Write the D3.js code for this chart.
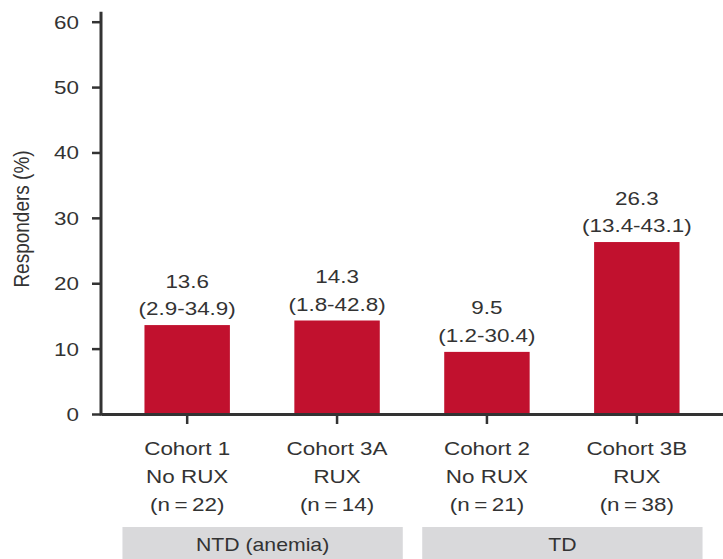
<!DOCTYPE html>
<html>
<head>
<meta charset="utf-8">
<script src="https://cdn.jsdelivr.net/npm/d3@7"></script>
<style>
  body { margin: 0; background: #fff; }
  svg text { font-family: "Liberation Sans", Arial, Helvetica, sans-serif; fill: #333; }
</style>
</head>
<body>
<svg id="chart"></svg>
<script>
// data
const cohorts = ['Cohort 1', 'Cohort 3A', 'Cohort 2', 'Cohort 3B'];
const treatment = ['No RUX', 'RUX', 'No RUX', 'RUX'];
const sampleSize = [22, 14, 21, 38];
const responders = [13.6, 14.3, 9.5, 26.3];
const ciLabels = ['(2.9-34.9)', '(1.8-42.8)', '(1.2-30.4)', '(13.4-43.1)'];
const groups = [
  { name: 'NTD (anemia)', members: ['Cohort 1', 'Cohort 3A'] },
  { name: 'TD', members: ['Cohort 2', 'Cohort 3B'] }
];
const yTicks = [0, 10, 20, 30, 40, 50, 60];

const width = 723, height = 559;
const sx = 1.18; // source figure is stretched horizontally

const svg = d3.select('#chart')
    .attr('width', width)
    .attr('height', height);

const xScale = d3.scaleBand()
    .domain(cohorts)
    .range([101, 723])
    .paddingInner(0.43)
    .paddingOuter(0.29);

const yScale = d3.scaleLinear()
    .domain([0, 60])
    .range([414, 21.7]);

// helper: horizontally stretched text
function stretchedText(sel, x, y, txt, size, anchor) {
  return sel.append('text')
      .attr('transform', `translate(${x},${y}) scale(${sx},1)`)
      .attr('text-anchor', anchor || 'middle')
      .style('font-size', size + 'px')
      .text(txt);
}

// bars
svg.selectAll('.bar')
    .data(cohorts)
  .join('rect')
    .attr('class', 'bar')
    .attr('x', d => xScale(d))
    .attr('width', xScale.bandwidth())
    .attr('y', (d, i) => yScale(responders[i]))
    .attr('height', (d, i) => yScale(0) - yScale(responders[i]))
    .attr('fill', '#c1112e');

// value + CI labels
cohorts.forEach((c, i) => {
  const cx = xScale(c) + xScale.bandwidth() / 2;
  const top = yScale(responders[i]);
  stretchedText(svg, cx, top - 37.5, responders[i].toFixed(1), 19);
  stretchedText(svg, cx, top - 10, ciLabels[i], 19);
});

// y axis
const yAxis = d3.axisLeft(yScale)
    .tickValues(yTicks)
    .tickSize(9)
    .tickSizeOuter(0)
    .tickFormat('');

const yAxisG = svg.append('g')
    .attr('transform', 'translate(101,0)')
    .call(yAxis);
yAxisG.select('.domain').remove();
yAxisG.selectAll('.tick line').attr('stroke', '#333').attr('stroke-width', 2.5);

svg.append('line')
    .attr('x1', 101).attr('x2', 101)
    .attr('y1', yScale(60) - 10).attr('y2', yScale(0) + 1.5)
    .attr('stroke', '#333').attr('stroke-width', 3);

yTicks.forEach(t => {
  stretchedText(svg, 79, yScale(t) + 7, t, 19, 'end');
});

// y axis title
svg.append('text')
    .attr('transform', `translate(29,219) rotate(-90) scale(1,${sx})`)
    .attr('text-anchor', 'middle')
    .style('font-size', '19px')
    .text('Responders (%)');

// x axis
const xAxis = d3.axisBottom(xScale)
    .tickSize(10)
    .tickSizeOuter(0)
    .tickFormat('');

const xAxisG = svg.append('g')
    .attr('transform', `translate(0,${yScale(0)})`)
    .call(xAxis);
xAxisG.select('.domain').attr('stroke', '#333').attr('stroke-width', 3);
xAxisG.selectAll('.tick line').attr('stroke', '#333').attr('stroke-width', 2.5);

// multi-line category labels
cohorts.forEach((c, i) => {
  const cx = xScale(c) + xScale.bandwidth() / 2;
  stretchedText(svg, cx, 455, c, 19);
  stretchedText(svg, cx, 483, treatment[i], 19);
  stretchedText(svg, cx, 511, `(n\u2009=\u2009${sampleSize[i]})`, 19);
});

// group boxes
groups.forEach(g => {
  const x0 = xScale(g.members[0]) - 22;
  const x1 = xScale(g.members[g.members.length - 1]) + xScale.bandwidth() + 23;
  svg.append('rect')
      .attr('x', x0)
      .attr('y', 527)
      .attr('width', x1 - x0)
      .attr('height', 40)
      .attr('fill', '#d9d9db');
  stretchedText(svg, (x0 + x1) / 2, 551, g.name, 18);
});
</script>
</body>
</html>
